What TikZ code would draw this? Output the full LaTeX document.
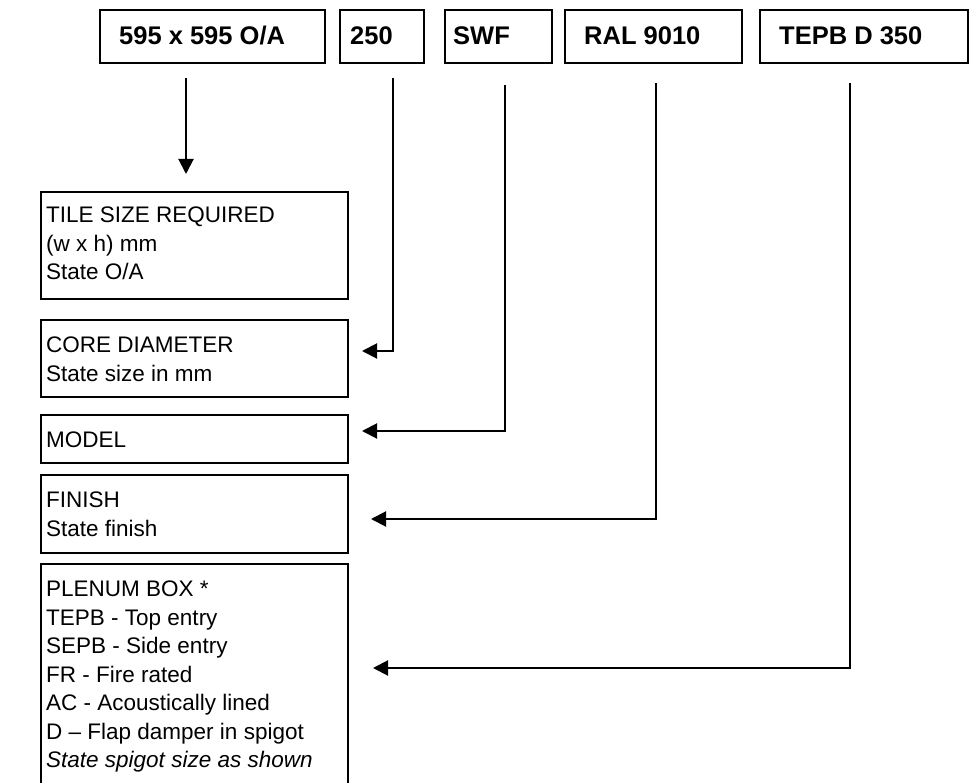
\documentclass[tikz,border=0pt]{standalone}
\usepackage{fontspec}
\setmainfont{Liberation Sans}
\usetikzlibrary{arrows.meta}
\begin{document}
\begin{tikzpicture}[x=1pt,y=-1pt,
  box/.style={draw=black, line width=2pt, inner sep=0pt, anchor=north west},
  code/.style={font=\fontsize{25.5}{30}\selectfont\bfseries, anchor=base west, inner sep=0pt},
  desc/.style={font=\fontsize{22.5}{28.5}\selectfont, anchor=north west, align=left, inner sep=0pt},
  link/.style={line width=2pt, -{Triangle[length=15pt,width=15pt]}},
]
\useasboundingbox (0,0) rectangle (969,783);

% top code boxes
\node[box, minimum width=225pt, minimum height=53pt] (b1) at (99,9) {};
\node[box, minimum width=84pt,  minimum height=53pt] (b2) at (339,9) {};
\node[box, minimum width=107pt, minimum height=53pt] (b3) at (444,9) {};
\node[box, minimum width=177pt, minimum height=53pt] (b4) at (564,9) {};
\node[box, minimum width=208pt, minimum height=53pt] (b5) at (759,9) {};
\node[code] (t1) at (119,45) {595 x 595 O/A};
\node[code] (t2) at (350,45) {250};
\node[code] (t3) at (453,45) {SWF};
\node[code] (t4) at (584,45) {RAL 9010};
\node[code] (t5) at (779,45) {TEPB D 350};

% left description boxes
\node[box, minimum width=307pt, minimum height=107pt] (tile) at (40,191) {};
\node[box, minimum width=307pt, minimum height=77pt]  (core) at (40,319) {};
\node[box, minimum width=307pt, minimum height=48pt]  (model) at (40,414) {};
\node[box, minimum width=307pt, minimum height=78pt]  (finish) at (40,474) {};
\node[box, minimum width=307pt, minimum height=240pt] (plenum) at (40,563) {};

\node[desc] (tiletxt) at (46,207) {TILE SIZE REQUIRED\\(w x h) mm\\State O/A};
\node[desc] (coretxt) at (46,337) {CORE DIAMETER\\State size in mm};
\node[desc] (modeltxt) at (46,432) {MODEL};
\node[desc] (finishtxt) at (46,492) {FINISH\\State finish};
\node[desc] (plenumtxt) at (46,581) {PLENUM BOX *\\TEPB - Top entry\\SEPB - Side entry\\FR - Fire rated\\AC - Acoustically lined\\D -- Flap damper in spigot\\\textit{State spigot size as shown}};

% connectors
\coordinate (s1) at (186,78);  \coordinate (e1) at (186,174);
\coordinate (s2) at (393,78);  \coordinate (e2) at (362,351);
\coordinate (s3) at (505,85);  \coordinate (e3) at (362,431);
\coordinate (s4) at (656,83);  \coordinate (e4) at (371,519);
\coordinate (s5) at (850,83);  \coordinate (e5) at (373,668);

\draw[link] (s1) -- (e1);
\draw[link] (s2) |- (e2);
\draw[link] (s3) |- (e3);
\draw[link] (s4) |- (e4);
\draw[link] (s5) |- (e5);
\end{tikzpicture}
\end{document}
